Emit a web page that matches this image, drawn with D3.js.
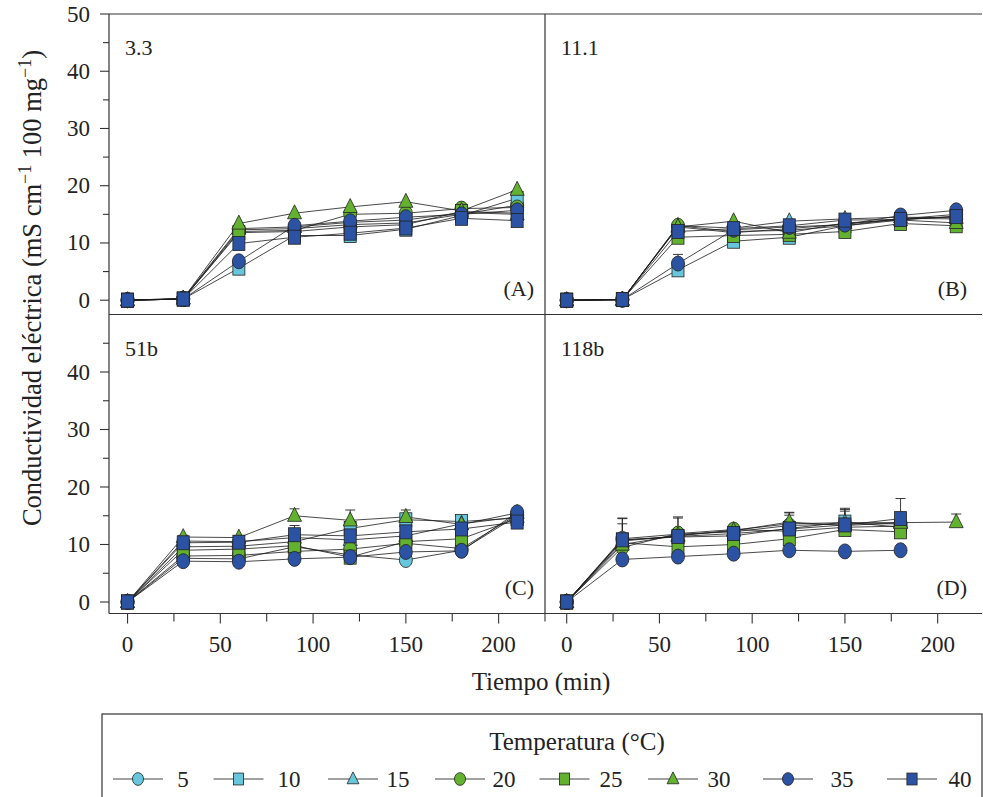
<!DOCTYPE html>
<html>
<head>
<meta charset="utf-8">
<script src="https://cdn.jsdelivr.net/npm/d3@7"></script>
<style>
  body { margin: 0; background: #fff; }
</style>
</head>
<body>
<script>
// --- data ---
const times = [0, 30, 60, 90, 120, 150, 180, 210];
const temps = ["5", "10", "15", "20", "25", "30", "35", "40"];
const panelNames = ["3.3", "11.1", "51b", "118b"];
const panelTags = ["(A)", "(B)", "(C)", "(D)"];
const yTicks = [0, 10, 20, 30, 40, 50];
const xTicks = [0, 50, 100, 150, 200];

// one row per temperature (5 ... 40 °C)
const panelA = [
  [0, 0.2, 12.3, 12.5, 13.2, 13.5, 15.0, 16.6],
  [0, 0.2, 5.6, 11.3, 11.3, 12.4, 14.8, 17.8],
  [0, 0.3, 12.5, 12.8, 13.6, 14.0, 15.3, 15.0],
  [0, 0.2, 12.0, 12.2, 15.0, 15.2, 16.0, 16.2],
  [0, 0.2, 11.8, 12.0, 12.8, 13.2, 15.5, 15.2],
  [0, 0.3, 13.4, 15.2, 16.3, 17.2, 15.6, 19.3],
  [0, 0.2, 6.8, 13.0, 13.8, 14.5, 15.0, 15.7],
  [0, 0.2, 9.9, 11.0, 11.7, 12.6, 14.3, 13.9]
];
const panelB = [
  [0, 0.1, 12.8, 11.8, 12.5, 13.3, 14.2, 15.0],
  [0, 0.1, 5.3, 10.3, 11.0, 13.0, 14.0, 14.7],
  [0, 0.1, 13.0, 12.6, 13.8, 14.2, 14.5, 14.4],
  [0, 0.1, 13.0, 12.0, 12.2, 13.0, 14.3, 14.2],
  [0, 0.1, 11.0, 11.3, 11.5, 12.0, 13.4, 13.0],
  [0, 0.1, 12.8, 13.8, 11.8, 13.5, 14.0, 13.5],
  [0, 0.1, 6.4, 12.3, 12.8, 13.2, 14.8, 15.7],
  [0, 0.1, 12.0, 12.5, 13.0, 14.0, 14.1, 14.6]
];
const panelC = [
  [0, 7.6, 7.5, 9.6, 8.2, 7.3, 9.0, 15.0],
  [0, 9.6, 9.7, 10.5, 12.8, 14.3, 14.0, 14.6],
  [0, 10.6, 10.5, 11.2, 10.8, 11.5, 13.6, 14.8],
  [0, 8.0, 8.1, 8.8, 9.2, 10.2, 9.3, 15.2],
  [0, 9.0, 9.2, 9.8, 7.8, 10.5, 11.0, 14.5],
  [0, 11.3, 11.2, 15.0, 14.2, 14.8, 13.5, 15.5],
  [0, 7.1, 7.0, 7.5, 7.8, 8.7, 8.9, 15.6],
  [0, 10.3, 10.4, 11.7, 11.5, 12.2, 12.7, 13.9]
];
const panelD = [
  [0, 11.0, 11.8, 12.2, 13.3, 13.6, 13.6, null],
  [0, 10.8, 11.3, 11.5, 12.8, 13.9, 13.0, null],
  [0, 10.6, 11.5, 12.5, 13.6, 13.8, 13.8, null],
  [0, 9.5, 11.9, 12.6, 12.3, 13.0, 13.2, null],
  [0, 10.3, 9.6, 10.0, 11.0, 12.6, 12.2, null],
  [0, 10.0, 11.6, 12.4, 13.9, 13.3, 13.8, 13.9],
  [0, 7.4, 7.9, 8.4, 9.0, 8.8, 9.0, null],
  [0, 10.8, 11.4, 11.9, 12.7, 13.4, 14.5, null]
];

// upper error bars (only the visible ones, zero elsewhere)
const z8 = [0, 0, 0, 0, 0, 0, 0, 0];
const errA = [z8, z8, z8, z8, z8, z8, z8, z8];
const errB = [z8, z8, z8, z8, z8, z8, [0, 0, 1.6, 0, 0, 0, 0, 0], z8];
const errC = [
  z8,
  [0, 0, 0, 0, 0, 0, 0.8, 0],
  z8, z8, z8,
  [0, 0.3, 0.3, 1.2, 1.8, 1.2, 0, 0],
  z8,
  [0, 0, 0, 1.6, 0, 0, 0, 2.0]
];
const errD = [
  [0, 3.5, 2.8, 0, 2.3, 2.5, 0, 0],
  z8,
  [0, 3.0, 0, 0, 0, 2.0, 0, 0],
  [0, 0, 0, 0, 2.8, 0, 0, 0],
  z8,
  [0, 0, 0, 0.5, 0, 0, 1.8, 1.4],
  z8,
  [0, 3.8, 3.4, 0.9, 2.8, 2.9, 3.5, 0]
];

const panelData = [panelA, panelB, panelC, panelD];
const panelErr = [errA, errB, errC, errD];

// --- styling ---
const cyan = "#67c6dc", green = "#63b22f", blue = "#2c53a3";
const colors = [cyan, cyan, cyan, green, green, green, blue, blue];
const shapes = ["circle", "square", "triangle", "circle", "square", "triangle", "circle", "square"];
const serif = "'Liberation Serif'";

const W = 983, H = 797;
const x0 = 109, xm = 545, x1 = 982;
const y0 = 14, ym = 314.5, y1 = 613.5;

const svg = d3.select("body").append("svg")
  .attr("width", W).attr("height", H)
  .attr("viewBox", `0 0 ${W} ${H}`)
  .style("font-family", serif);

// text helper so every label gets the serif family
function label(g, x, y, str, size, anchor) {
  return g.append("text").attr("x", x).attr("y", y)
    .attr("text-anchor", anchor || "start")
    .attr("font-family", "Liberation Serif")
    .style("font-family", serif)
    .style("font-size", size + "px")
    .attr("fill", "#222")
    .text(String(str));
}

function marker(g, shape, cx, cy, fill, s) {
  if (shape === "circle") {
    g.append("ellipse").attr("cx", cx).attr("cy", cy)
      .attr("rx", 6.5 * s).attr("ry", 7.5 * s)
      .attr("fill", fill).attr("stroke", "#222").attr("stroke-width", 0.8);
  } else if (shape === "square") {
    g.append("rect").attr("x", cx - 6 * s).attr("y", cy - 7 * s)
      .attr("width", 12 * s).attr("height", 14 * s)
      .attr("fill", fill).attr("stroke", "#222").attr("stroke-width", 0.8);
  } else {
    const h = 14 * s, w = 14 * s;
    g.append("path")
      .attr("d", `M${cx},${cy - h * 0.6}L${cx + w / 2},${cy + h * 0.4}L${cx - w / 2},${cy + h * 0.4}Z`)
      .attr("fill", fill).attr("stroke", "#222").attr("stroke-width", 0.8);
  }
}

// panel frames and scale domains
const panels = [
  {L: x0, R: xm, T: y0, B: ym, xd: [-10, 225], yd: [-2.5, 50]},
  {L: xm, R: x1, T: y0, B: ym, xd: [-11.7, 223.9], yd: [-2.5, 50]},
  {L: x0, R: xm, T: ym, B: y1, xd: [-10, 225], yd: [-2.0, 50]},
  {L: xm, R: x1, T: ym, B: y1, xd: [-11.7, 223.9], yd: [-2.0, 50]}
];

const lineCol = "#333";

panels.forEach((p, pi) => {
  const x = d3.scaleLinear().domain(p.xd).range([p.L, p.R]);
  const y = d3.scaleLinear().domain(p.yd).range([p.B, p.T]);
  const g = svg.append("g");
  const rows = panelData[pi];
  const errs = panelErr[pi];

  // lines
  const line = d3.line()
    .defined(d => d.v != null)
    .x(d => x(d.t)).y(d => y(d.v));
  rows.forEach(row => {
    const pts = times.map((t, i) => ({t: t, v: row[i]}));
    g.append("path").attr("d", line(pts))
      .attr("fill", "none").attr("stroke", "#1a1a1a").attr("stroke-width", 0.8);
  });

  // error bars (upper)
  rows.forEach((row, si) => {
    row.forEach((v, i) => {
      const e = errs[si][i];
      if (v == null || !e) return;
      const cx = x(times[i]);
      g.append("line").attr("x1", cx).attr("x2", cx)
        .attr("y1", y(v)).attr("y2", y(v + e))
        .attr("stroke", "#222").attr("stroke-width", 0.9);
      g.append("line").attr("x1", cx - 5).attr("x2", cx + 5)
        .attr("y1", y(v + e)).attr("y2", y(v + e))
        .attr("stroke", "#222").attr("stroke-width", 0.9);
    });
  });

  // markers
  rows.forEach((row, si) => {
    row.forEach((v, i) => {
      if (v == null) return;
      marker(g, shapes[si], x(times[i]), y(v), colors[si], 1);
    });
  });

  // y axis on left panels
  if (p.L === x0) {
    const yAx = svg.append("g");
    yTicks.forEach(t => {
      if (pi === 2 && t === 50) return;
      yAx.append("line").attr("x1", x0 - 9).attr("x2", x0)
        .attr("y1", y(t)).attr("y2", y(t)).attr("stroke", lineCol).attr("stroke-width", 1.1);
      label(yAx, 90, y(t) + 7.5, t, 23, "end");
    });
    d3.range(5, 50, 10).forEach(t => {
      yAx.append("line").attr("x1", x0 - 6).attr("x2", x0)
        .attr("y1", y(t)).attr("y2", y(t)).attr("stroke", lineCol).attr("stroke-width", 1.1);
    });
  }

  // x axis on bottom panels
  if (p.B === y1) {
    const xAx = svg.append("g");
    d3.range(0, 226, 25).forEach(t => {
      const px = x(t);
      if (px > p.R + 1) return;
      const major = t % 50 === 0;
      xAx.append("line").attr("x1", px).attr("x2", px)
        .attr("y1", y1).attr("y2", y1 + (major ? 10 : 8))
        .attr("stroke", lineCol).attr("stroke-width", 1.1);
    });
    xTicks.forEach(t => label(xAx, x(t), 652, t, 23, "middle"));
  }

  // panel names and tags
  label(svg, p.L + 16, p.T + 41, panelNames[pi], 22);
  label(svg, p.R - (p.L === x0 ? 11 : 15), p.B - 19, panelTags[pi], 22, "end");
});

// frame lines
const frame = svg.append("g").attr("stroke", lineCol).attr("stroke-width", 1.2);
frame.append("line").attr("x1", x0).attr("x2", x1).attr("y1", y0).attr("y2", y0);
frame.append("line").attr("x1", x0).attr("x2", x1).attr("y1", ym).attr("y2", ym);
frame.append("line").attr("x1", x0).attr("x2", x1).attr("y1", y1).attr("y2", y1);
frame.append("line").attr("x1", x0).attr("x2", x0).attr("y1", y0).attr("y2", y1);
frame.append("line").attr("x1", xm).attr("x2", xm).attr("y1", y0).attr("y2", y1);

// axis titles
label(svg, 541, 690, "Tiempo (min)", 25, "middle");

const yt = svg.append("text")
  .attr("transform", "translate(41,288) rotate(-90)")
  .attr("text-anchor", "middle")
  .style("font-family", serif).style("font-size", "26.5px").attr("fill", "#222");
yt.append("tspan").text("Conductividad eléctrica (mS cm");
yt.append("tspan").attr("dy", -10).style("font-size", "18px").text("−1");
yt.append("tspan").attr("dy", 10).text(" 100 mg");
yt.append("tspan").attr("dy", -10).style("font-size", "18px").text("−1");
yt.append("tspan").attr("dy", 10).text(")");

// legend
const legendX = [138, 238.5, 353, 460, 564.5, 673, 788, 912];
const legendLabelX = [183, 289, 398, 504, 611, 719, 842, 960];
const lg = svg.append("g");
lg.append("rect").attr("x", 102).attr("y", 714).attr("width", 880).attr("height", 100)
  .attr("fill", "none").attr("stroke", lineCol).attr("stroke-width", 1.2);
label(lg, 577, 750, "Temperatura (°C)", 25, "middle");
temps.forEach((t, i) => {
  const cx = legendX[i], cy = 779;
  lg.append("line").attr("x1", cx - 25).attr("x2", cx + 25).attr("y1", cy).attr("y2", cy)
    .attr("stroke", "#444").attr("stroke-width", 1);
  marker(lg, shapes[i], cx, cy, colors[i], 0.85);
  label(lg, legendLabelX[i], cy + 8, t, 23, "middle");
});
</script>
</body>
</html>
